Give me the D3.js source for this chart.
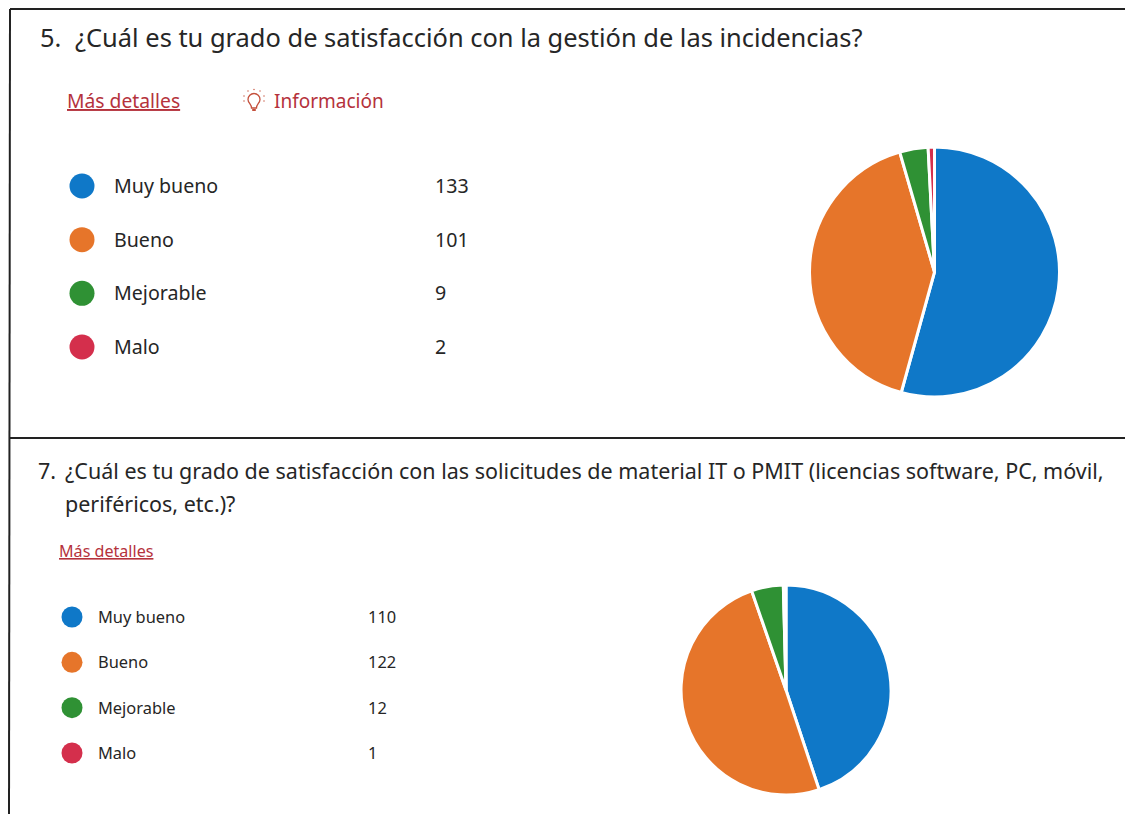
<!DOCTYPE html>
<html>
<head>
<meta charset="utf-8">
<script src="https://cdnjs.cloudflare.com/ajax/libs/d3/7.8.5/d3.min.js"></script>
<style>
	html, body { margin: 0; padding: 0; background: #fff; overflow: hidden; }
	text { font-family: "Noto Sans", "Open Sans", sans-serif; fill: #262626; }
	.link { fill: #b5323c; }
</style>
</head>
<body>
<svg id="chart" width="1125" height="814"></svg>
<script>
const categories = ["Muy bueno", "Bueno", "Mejorable", "Malo"];
const colors = ["#0f78c8", "#e6752a", "#2f9134", "#d42f4c"];
const incidenciasValues = [133, 101, 9, 2];
const solicitudesValues = [110, 122, 12, 1];
const incidenciasTitle = ["¿Cuál es tu grado de satisfacción con la gestión de las incidencias?"];
const solicitudesTitle = [
	"¿Cuál es tu grado de satisfacción con las solicitudes de material IT o PMIT (licencias software, PC, móvil,",
	"periféricos, etc.)?",
];

const svg = d3.select("#chart");

// scanned page frame
const frame = svg.append("g").attr("stroke", "#222").attr("stroke-width", 2);
frame.append("line").attr("x1", 10).attr("y1", 9).attr("x2", 1125).attr("y2", 9);
frame.append("line").attr("x1", 10).attr("y1", 438).attr("x2", 1125).attr("y2", 438);
frame.append("line").attr("x1", 10).attr("y1", 9).attr("x2", 9).attr("y2", 814);

function panel(opts) {
	const g = svg.append("g");

	g.append("text")
		.attr("x", opts.numberX)
		.attr("y", opts.titleY)
		.attr("font-size", opts.titleSize)
		.text(opts.number);
	opts.title.forEach((t, i) => {
		g.append("text")
			.attr("x", opts.titleX)
			.attr("y", opts.titleY + i * opts.titleStep)
			.attr("font-size", opts.titleSize)
			.text(t);
	});

	// links
	g.append("text")
		.attr("class", "link")
		.attr("x", opts.linkX)
		.attr("y", opts.linkY)
		.attr("font-size", opts.linkSize)
		.attr("text-decoration", "underline")
		.text("Más detalles");

	if (opts.info) {
		g.append("text")
			.attr("class", "link")
			.attr("x", 274)
			.attr("y", opts.linkY)
			.attr("font-size", opts.linkSize - 0.3)
			.text("Información");
		// bulb icon
		const bulb = g.append("g")
			.attr("transform", `translate(254, ${opts.linkY - 7})`)
			.attr("fill", "none")
			.attr("stroke", "#c4503c")
			.attr("stroke-width", 1.3);
		bulb.append("path").attr("d", "M-2.5 7 C-2.5 3 -6 2 -6 -1.5 A6 6 0 1 1 6 -1.5 C6 2 2.5 3 2.5 7 Z");
		bulb.append("path").attr("d", "M-1.8 9 H1.8").attr("stroke-width", 2);
		bulb.selectAll("circle")
			.data([[-10, -5], [-10, 0], [10, -5], [10, 0], [-6, -10], [0, -11.5], [6, -10]])
			.enter().append("circle")
			.attr("cx", d => d[0]).attr("cy", d => d[1]).attr("r", 0.7)
			.attr("fill", "#c4503c").attr("stroke", "none");
	}

	// legend
	const rowY = d3.scalePoint().domain(categories).range(opts.legendY);
	const rows = g.selectAll("g.row").data(categories).enter().append("g")
		.attr("class", "row")
		.attr("transform", d => `translate(0, ${rowY(d)})`);
	rows.append("circle")
		.attr("cx", opts.dotX)
		.attr("r", opts.dotR)
		.attr("fill", (d, i) => colors[i]);
	rows.append("text")
		.attr("x", opts.labelX)
		.attr("dy", "0.36em")
		.attr("font-size", opts.legendSize)
		.text(d => d);
	rows.append("text")
		.attr("x", opts.valueX)
		.attr("dy", "0.36em")
		.attr("font-size", opts.legendSize)
		.text((d, i) => opts.values[i]);

	// pie, clockwise from 12 o'clock in legend order
	const pie = d3.pie().sort(null)(opts.values);
	const arc = d3.arc().innerRadius(0).outerRadius(opts.r);
	g.append("g")
		.attr("transform", `translate(${opts.cx}, ${opts.cy})`)
		.selectAll("path")
		.data(pie)
		.enter().append("path")
		.attr("d", arc)
		.attr("fill", (d, i) => colors[i])
		.attr("stroke", "#fff")
		.attr("stroke-width", 3);
}

panel({
	number: "5.", numberX: 40,
	title: incidenciasTitle, titleX: 75, titleY: 47, titleStep: 0, titleSize: 25.45,
	linkX: 67, linkY: 108, linkSize: 19.3, info: true,
	legendY: [186, 347], dotX: 82, dotR: 12.5, labelX: 114, valueX: 435, legendSize: 19.6,
	values: incidenciasValues, cx: 934.5, cy: 272, r: 125,
});

panel({
	number: "7.", numberX: 38,
	title: solicitudesTitle, titleX: 65, titleY: 479, titleStep: 33, titleSize: 21.5,
	linkX: 59, linkY: 557, linkSize: 16.1, info: false,
	legendY: [617, 753], dotX: 72, dotR: 10.5, labelX: 98, valueX: 368, legendSize: 16.4,
	values: solicitudesValues, cx: 786, cy: 690, r: 105,
});
</script>
</body>
</html>
